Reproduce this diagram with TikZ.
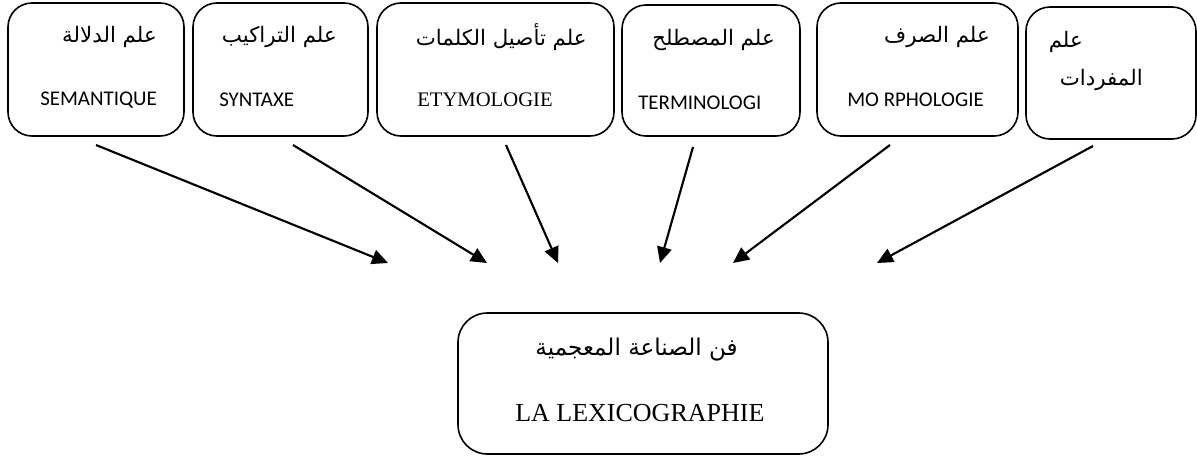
\documentclass[tikz,border=0pt]{standalone}
\usepackage{fontspec}
\setmainfont{Liberation Serif}
\newfontfamily\latsans{Carlito}
\newfontfamily\arabicfont[Script=Arabic]{DejaVu Sans}
\TeXXeTstate=1
\usetikzlibrary{arrows.meta,fit}
\tikzset{
  field/.style={draw=black,line width=1.2pt,rounded corners=18pt,inner sep=0pt},
  lexbox/.style={field,rounded corners=22pt},
  arlbl/.style={font=\arabicfont\fontsize{16}{18}\selectfont,inner sep=0pt,anchor=east},
  arbig/.style={arlbl,font=\arabicfont\fontsize{17.3}{20}\selectfont},
  sanslbl/.style={font=\latsans\fontsize{15.7}{18}\selectfont,inner sep=0pt,anchor=west},
  seriflbl/.style={font=\fontsize{15.5}{18}\selectfont,inner sep=0pt,anchor=west},
  serifbig/.style={seriflbl,font=\fontsize{19.5}{22}\selectfont},
  feed/.style={-{Triangle[length=12pt,width=11pt]},line width=1.6pt},
}

\begin{document}
\begin{tikzpicture}[x=0.75pt,y=-0.75pt]
  \useasboundingbox (0,0) rectangle (1197,457);
  % upper row of fields
  \node[field,fit={(8,3) (184,136)}]    (sem) {};
  \node[field,fit={(193,3) (368,136)}]  (syn) {};
  \node[field,fit={(377,3) (614,136)}]  (ety) {};
  \node[field,fit={(622,5) (800,136)}]  (ter) {};
  \node[field,fit={(817,3) (1018,136)}] (mor) {};
  \node[field,fit={(1026,7) (1196,139)}] (mof) {};
  \node[arlbl] (semar) at (157,37) {\beginR علم الدلالة\endR};
  \node[sanslbl] (semfr) at (40,100) {SEMANTIQUE};
  \node[arlbl] (synar) at (337,37) {\beginR علم التراكيب\endR};
  \node[sanslbl] (synfr) at (219,100) {SYNTAXE};
  \node[arlbl] (etyar) at (587,37) {\beginR علم تأصيل الكلمات\endR};
  \node[seriflbl] (etyfr) at (417,100) {ETYMOLOGIE};
  \node[arlbl] (terar) at (775,40) {\beginR علم المصطلح\endR};
  \node[sanslbl] (terfr) at (638,103) {TERMINOLOGI};
  \node[arlbl] (morar) at (990,37) {\beginR علم الصرف\endR};
  \node[sanslbl] (morfr) at (847,100) {MO RPHOLOGIE};
  \node[arlbl] (mofar) at (1083,42) {\beginR علم\endR};
  \node[arlbl] (mofar2) at (1143,80) {\beginR المفردات\endR};
  % lower field
  \node[lexbox,fit={(458,313) (828,454)}] (lex) {};
  \node[arbig] (lexar) at (738,350) {\beginR فن الصناعة المعجمية\endR};
  \node[serifbig] (lexfr) at (515,413) {LA LEXICOGRAPHIE};
  % arrows
  \coordinate (s1) at (96,145);   \coordinate (t1) at (388,263);
  \coordinate (s2) at (293,145);  \coordinate (t2) at (487,263);
  \coordinate (s3) at (506,145);  \coordinate (t3) at (558,263);
  \coordinate (s4) at (693,147);  \coordinate (t4) at (660,263);
  \coordinate (s5) at (890,145);  \coordinate (t5) at (733,263);
  \coordinate (s6) at (1093,146); \coordinate (t6) at (877,263);
  \draw[feed] (s1) -- (t1);
  \draw[feed] (s2) -- (t2);
  \draw[feed] (s3) -- (t3);
  \draw[feed] (s4) -- (t4);
  \draw[feed] (s5) -- (t5);
  \draw[feed] (s6) -- (t6);
\end{tikzpicture}
\end{document}
